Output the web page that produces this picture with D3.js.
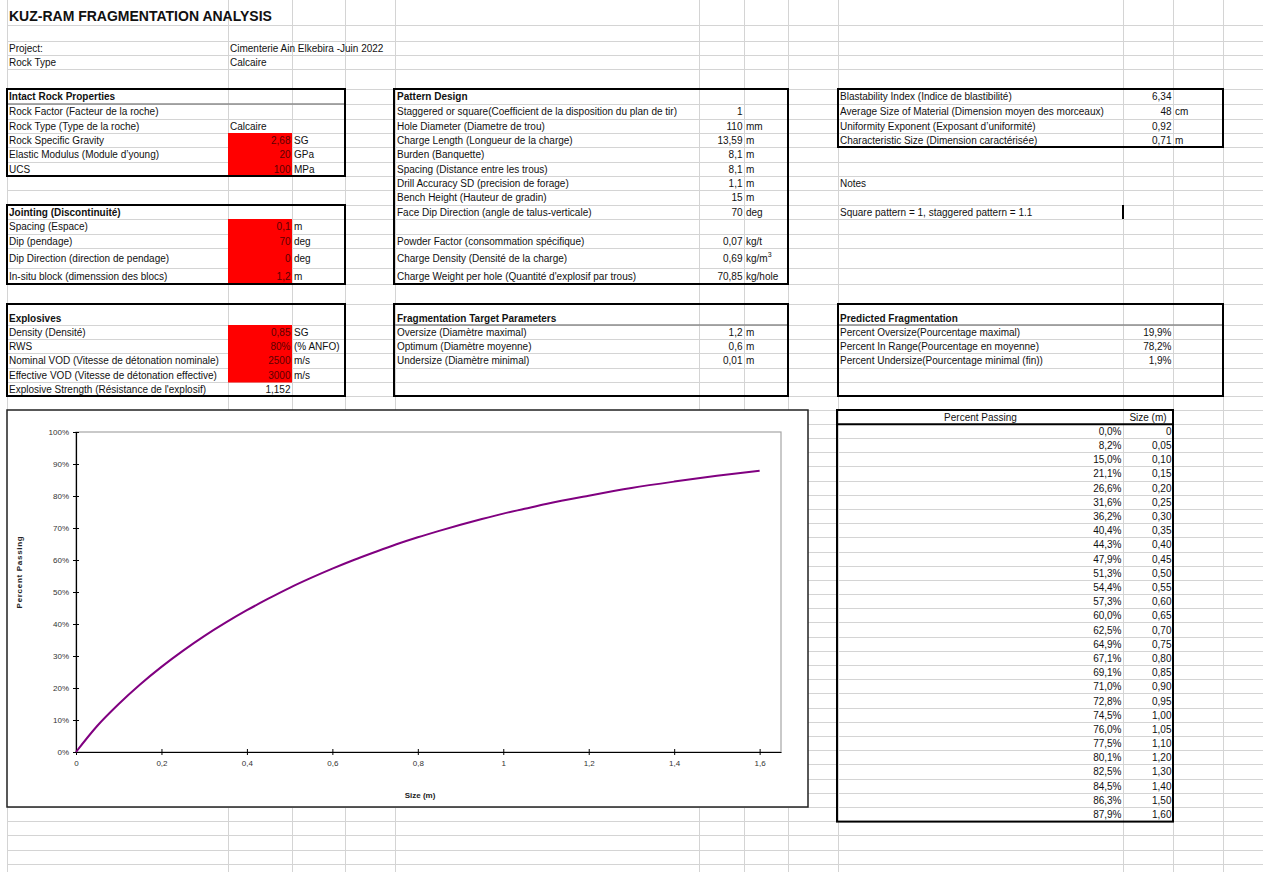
<!DOCTYPE html>
<html>
<head>
<meta charset="utf-8">
<script src="https://cdn.jsdelivr.net/npm/d3@7"></script>
<style>
  body { margin: 0; background: #fff; }
  svg { display: block; font-family: "Liberation Sans", Arial, sans-serif; }
</style>
</head>
<body>
<svg id="sheet" width="1263" height="872"></svg>
<script>
// ---- Passing curve data (size in m, fraction passing) ----
const sizes = [0, 0.05, 0.10, 0.15, 0.20, 0.25, 0.30, 0.35, 0.40, 0.45, 0.50, 0.55, 0.60, 0.65,
               0.70, 0.75, 0.80, 0.85, 0.90, 0.95, 1.00, 1.05, 1.10, 1.20, 1.30, 1.40, 1.50, 1.60];
const percentPassing = [0.000, 0.082, 0.150, 0.211, 0.266, 0.316, 0.362, 0.404, 0.443, 0.479, 0.513,
                        0.544, 0.573, 0.600, 0.625, 0.649, 0.671, 0.691, 0.710, 0.728, 0.745, 0.760,
                        0.775, 0.801, 0.825, 0.845, 0.863, 0.879];
const yTicks = [0, 0.1, 0.2, 0.3, 0.4, 0.5, 0.6, 0.7, 0.8, 0.9, 1.0];
const xTicks = [0, 0.2, 0.4, 0.6, 0.8, 1.0, 1.2, 1.4, 1.6];

// ---- Worksheet cell contents: [row, column, text, options] ----
// columns: 0=A 1=B 2=C 3=D 4=E 5=F 6=G 7=H 8=I 9=J 10=K
const headerCells = [
  [0, 0, "KUZ-RAM FRAGMENTATION ANALYSIS", { title: true }],
  [2, 0, "Project:"], [2, 1, "Cimenterie Ain Elkebira -Juin 2022"],
  [3, 0, "Rock Type"], [3, 1, "Calcaire"]
];
const rockCells = [
  [5, 0, "Intact Rock Properties", { bold: true }],
  [6, 0, "Rock Factor (Facteur de la roche)"],
  [7, 0, "Rock Type (Type de la roche)"], [7, 1, "Calcaire"],
  [8, 0, "Rock Specific Gravity"], [8, 1, "2,68", { right: true, red: true }], [8, 2, "SG"],
  [9, 0, "Elastic Modulus (Module d\u2019young)"], [9, 1, "20", { right: true, red: true }], [9, 2, "GPa"],
  [10, 0, "UCS"], [10, 1, "100", { right: true, red: true }], [10, 2, "MPa"],
  [13, 0, "Jointing (Discontinuit\u00e9)", { bold: true }],
  [14, 0, "Spacing (Espace)"], [14, 1, "0,1", { right: true, red: true }], [14, 2, "m"],
  [15, 0, "Dip (pendage)"], [15, 1, "70", { right: true, red: true }], [15, 2, "deg"],
  [16, 0, "Dip Direction (direction de pendage)"], [16, 1, "0", { right: true, red: true }], [16, 2, "deg"],
  [17, 0, "In-situ block (dimenssion des blocs)"], [17, 1, "1,2", { right: true, red: true }], [17, 2, "m"],
  [19, 0, "Explosives", { bold: true }],
  [20, 0, "Density (Densit\u00e9)"], [20, 1, "0,85", { right: true, red: true }], [20, 2, "SG"],
  [21, 0, "RWS"], [21, 1, "80%", { right: true, red: true }], [21, 2, "(% ANFO)"],
  [22, 0, "Nominal VOD (Vitesse de d\u00e9tonation nominale)"], [22, 1, "2500", { right: true, red: true }], [22, 2, "m/s"],
  [23, 0, "Effective VOD (Vitesse de d\u00e9tonation effective)"], [23, 1, "3000", { right: true, red: true }], [23, 2, "m/s"],
  [24, 0, "Explosive Strength (R\u00e9sistance de l'explosif)"], [24, 1, "1,152", { right: true }]
];
const patternCells = [
  [5, 4, "Pattern Design", { bold: true }],
  [6, 4, "Staggered or square(Coefficient de la disposition du plan de tir)"], [6, 5, "1", { right: true }],
  [7, 4, "Hole Diameter (Diametre de trou)"], [7, 5, "110", { right: true }], [7, 6, "mm"],
  [8, 4, "Charge Length (Longueur de la charge)"], [8, 5, "13,59", { right: true }], [8, 6, "m"],
  [9, 4, "Burden (Banquette)"], [9, 5, "8,1", { right: true }], [9, 6, "m"],
  [10, 4, "Spacing (Distance entre les trous)"], [10, 5, "8,1", { right: true }], [10, 6, "m"],
  [11, 4, "Drill Accuracy SD (precision de forage)"], [11, 5, "1,1", { right: true }], [11, 6, "m"],
  [12, 4, "Bench Height (Hauteur de gradin)"], [12, 5, "15", { right: true }], [12, 6, "m"],
  [13, 4, "Face Dip Direction (angle de talus-verticale)"], [13, 5, "70", { right: true }], [13, 6, "deg"],
  [15, 4, "Powder Factor (consommation sp\u00e9cifique)"], [15, 5, "0,07", { right: true }], [15, 6, "kg/t"],
  [16, 4, "Charge Density (Densit\u00e9 de la charge)"], [16, 5, "0,69", { right: true }], [16, 6, "kg/m", { sup: "3" }],
  [17, 4, "Charge Weight per hole (Quantit\u00e9 d'explosif par trous)"], [17, 5, "70,85", { right: true }], [17, 6, "kg/hole"],
  [19, 4, "Fragmentation Target Parameters", { bold: true }],
  [20, 4, "Oversize (Diam\u00e8tre maximal)"], [20, 5, "1,2", { right: true }], [20, 6, "m"],
  [21, 4, "Optimum (Diam\u00e8tre moyenne)"], [21, 5, "0,6", { right: true }], [21, 6, "m"],
  [22, 4, "Undersize (Diam\u00e8tre minimal)"], [22, 5, "0,01", { right: true }], [22, 6, "m"]
];
const resultCells = [
  [5, 8, "Blastability Index (Indice de blastibilit\u00e9)"], [5, 9, "6,34", { right: true }],
  [6, 8, "Average Size of Material (Dimension moyen des morceaux)"], [6, 9, "48", { right: true }], [6, 10, "cm"],
  [7, 8, "Uniformity Exponent (Exposant d\u2019uniformit\u00e9)"], [7, 9, "0,92", { right: true }],
  [8, 8, "Characteristic Size (Dimension caract\u00e9ris\u00e9e)"], [8, 9, "0,71", { right: true }], [8, 10, "m"],
  [11, 8, "Notes"],
  [13, 8, "Square pattern = 1, staggered pattern = 1.1"],
  [19, 8, "Predicted Fragmentation", { bold: true }],
  [20, 8, "Percent Oversize(Pourcentage maximal)"], [20, 9, "19,9%", { right: true }],
  [21, 8, "Percent In Range(Pourcentage en moyenne)"], [21, 9, "78,2%", { right: true }],
  [22, 8, "Percent Undersize(Pourcentage minimal (fin))"], [22, 9, "1,9%", { right: true }]
];

// ---- Sheet geometry ----
const colX = [7, 228, 292, 345, 395, 699, 744, 788, 838, 1123, 1173, 1223, 1263];
const rowY = [4, 25, 41, 55, 69, 89, 104, 119, 133, 147, 162, 176, 190, 205, 219, 234, 248, 268, 284,
              304, 325, 339, 353, 368, 382, 396, 410];
const pitch = 14.19;
for (let yy = 424.3; yy < 872; yy += pitch) rowY.push(yy);
const TABLE_ROW = 26; // header row of the passing table

const svg = d3.select("#sheet");
svg.append("rect").attr("width", 1263).attr("height", 872).attr("fill", "#fff");

const FONT = '"Liberation Sans", Arial, sans-serif';
const GRID = "#d4d4d4";

// gridlines
const grid = svg.append("g").attr("stroke", GRID).attr("stroke-width", 1).attr("shape-rendering", "crispEdges");
grid.selectAll("line.h").data(rowY.slice(1)).join("line")
  .attr("x1", 7).attr("x2", 1263).attr("y1", d => d).attr("y2", d => d);
grid.selectAll("line.v").data(colX.slice(0, -1)).join("line")
  .attr("x1", d => d).attr("x2", d => d).attr("y1", 0).attr("y2", 872);

// red input cells (column B)
const redRows = [8, 9, 10, 14, 15, 16, 17, 20, 21, 22, 23];
svg.append("g").selectAll("rect").data(redRows).join("rect")
  .attr("x", colX[1]).attr("width", colX[2] - colX[1])
  .attr("y", r => rowY[r]).attr("height", r => rowY[r + 1] - rowY[r] + 0.5)
  .attr("fill", "#ff0000");

// header separators inside boxes
const sepG = svg.append("g").attr("stroke", "#8c8c8c").attr("stroke-width", 1.4);
[[7, 345, 104], [394, 788, 325], [838, 1223, 325]].forEach(([a, b, yy]) =>
  sepG.append("line").attr("x1", a).attr("x2", b).attr("y1", yy).attr("y2", yy));

// thick section frames
const boxes = [
  [7, 89, 345, 176], [7, 205, 345, 284], [7, 304, 345, 396],
  [394, 89, 788, 284], [394, 304, 788, 396],
  [838, 89, 1223, 147], [838, 304, 1223, 396],
  [837, 410, 1173, 821.6]
];
svg.append("g").selectAll("rect").data(boxes).join("rect")
  .attr("x", d => d[0]).attr("y", d => d[1])
  .attr("width", d => d[2] - d[0]).attr("height", d => d[3] - d[1])
  .attr("fill", "none").attr("stroke", "#000").attr("stroke-width", 2);
// table header underline and cell border next to the note
svg.append("line").attr("x1", 837).attr("x2", 1173).attr("y1", 424.3).attr("y2", 424.3)
  .attr("stroke", "#000").attr("stroke-width", 2);
svg.append("line").attr("x1", 1123).attr("x2", 1123).attr("y1", 205).attr("y2", 219)
  .attr("stroke", "#000").attr("stroke-width", 2);

// cell text
function textY(r) {
  if (r === 0) return 15.5;
  if (r === 19) return 318;
  return (rowY[r] + rowY[r + 1]) / 2;
}
const txt = svg.append("g").attr("font-family", FONT).attr("font-size", 10).attr("fill", "#111");
function putCell([r, c, t, o = {}]) {
  let x, anchor;
  if (o.right) { x = colX[c + 1] - 1.5; anchor = "end"; }
  else if (o.center) { x = (colX[c] + colX[c + 1]) / 2; anchor = "middle"; }
  else { x = colX[c] + 2; anchor = "start"; }
  const el = txt.append("text").attr("x", x).attr("y", textY(r))
    .attr("dominant-baseline", "central").attr("text-anchor", anchor).text(t);
  if (o.bold) el.attr("font-weight", "bold");
  if (o.title) el.attr("font-weight", "bold").attr("font-size", 14);
  if (o.red) el.attr("fill", "#5c0000");
  if (o.sup) el.append("tspan").attr("font-size", 7).attr("dy", -4).text(o.sup);
}
[...headerCells, ...rockCells, ...patternCells, ...resultCells].forEach(putCell);

// ---- Passing table ----
const fmtPct = v => d3.format(".1%")(v).replace(".", ",");
const fmtSize = v => v === 0 ? "0" : v.toFixed(2).replace(".", ",");
putCell([TABLE_ROW, 8, "Percent Passing", { center: true }]);
putCell([TABLE_ROW, 9, "Size (m)", { center: true }]);
percentPassing.forEach((p, i) => {
  putCell([TABLE_ROW + 1 + i, 8, fmtPct(p), { right: true }]);
  putCell([TABLE_ROW + 1 + i, 9, fmtSize(sizes[i]), { right: true }]);
});

// ---- Chart ----
const chart = svg.append("g");
chart.append("rect").attr("x", 7).attr("y", 410).attr("width", 801).attr("height", 397)
  .attr("fill", "#fff").attr("stroke", "#222").attr("stroke-width", 1.5);

const x = d3.scaleLinear().domain([0, 1.65]).range([76, 781]);
const y = d3.scaleLinear().domain([0, 1]).range([752, 432]);

// plot-area frame (top and right edges show in grey)
chart.append("rect").attr("x", 76).attr("y", 432).attr("width", 705).attr("height", 320)
  .attr("fill", "none").attr("stroke", "#a6a6a6").attr("stroke-width", 1.2);

const yAxis = chart.append("g").attr("transform", "translate(76,0)")
  .call(d3.axisLeft(y).tickValues(yTicks).tickFormat(d => Math.round(d * 100) + "%")
    .tickSizeInner(3).tickSizeOuter(0).tickPadding(4));
const xAxis = chart.append("g").attr("transform", "translate(0,752)")
  .call(d3.axisBottom(x).tickValues(xTicks).tickFormat(d => String(+d.toFixed(1)).replace(".", ","))
    .tickSizeInner(3).tickSizeOuter(0).tickPadding(5));
yAxis.selectAll(".tick line").attr("x1", 3);
xAxis.selectAll(".tick line").attr("y1", -3);
[yAxis, xAxis].forEach(g => {
  g.attr("font-family", FONT).attr("font-size", 8);
  g.select(".domain").attr("stroke", "#000").attr("stroke-width", 1.2);
  g.selectAll(".tick line").attr("stroke", "#000");
  g.selectAll(".tick text").attr("fill", "#333");
});

// passing curve
const pts = sizes.map((s, i) => [s, percentPassing[i]]);
chart.append("path").datum(pts)
  .attr("fill", "none").attr("stroke", "#800080").attr("stroke-width", 2)
  .attr("d", d3.line().x(d => x(d[0])).y(d => y(d[1])).curve(d3.curveMonotoneX));

// axis titles
chart.append("text").attr("transform", "translate(19,572) rotate(-90)")
  .attr("text-anchor", "middle").attr("dominant-baseline", "central")
  .attr("font-family", FONT).attr("font-size", 8).attr("font-weight", "bold")
  .attr("letter-spacing", 0.7).attr("fill", "#222").text("Percent Passing");
chart.append("text").attr("x", 420).attr("y", 795)
  .attr("text-anchor", "middle").attr("dominant-baseline", "central")
  .attr("font-family", FONT).attr("font-size", 8).attr("font-weight", "bold")
  .attr("fill", "#222").text("Size (m)");
</script>
</body>
</html>
